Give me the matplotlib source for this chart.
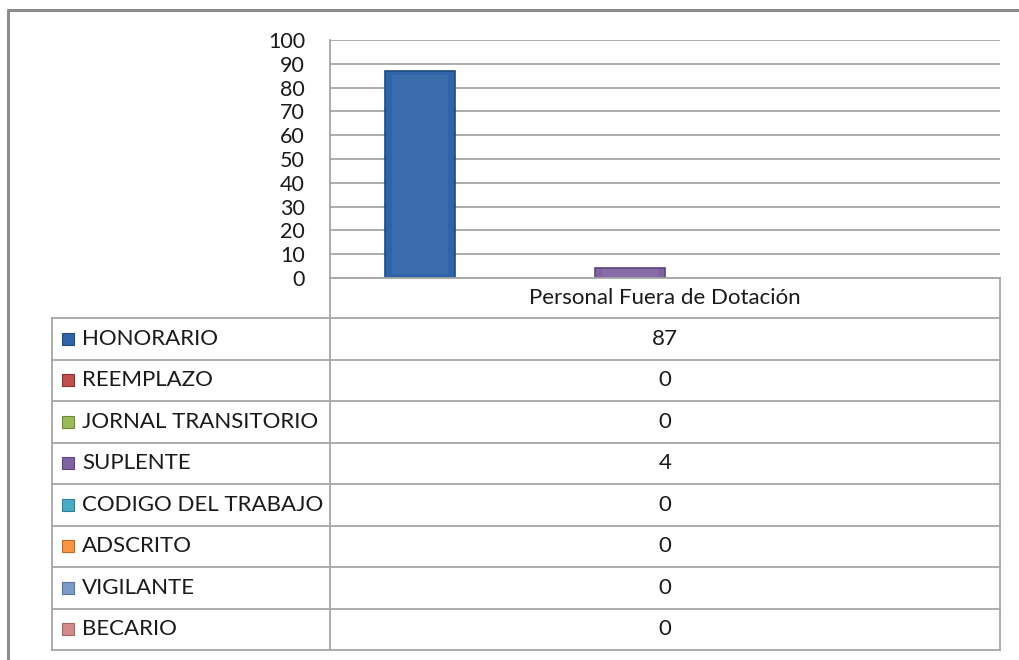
import matplotlib
matplotlib.use("Agg")
import matplotlib.pyplot as plt
from matplotlib.patches import Rectangle
from matplotlib.lines import Line2D

# ---- data ----
category = "Personal Fuera de Dotación"
series = ["HONORARIO", "REEMPLAZO", "JORNAL TRANSITORIO", "SUPLENTE",
          "CODIGO DEL TRABAJO", "ADSCRITO", "VIGILANTE", "BECARIO"]
values = [87, 0, 0, 4, 0, 0, 0, 0]
colors = ["#2F64A8", "#C0504D", "#9BBB59", "#8064A2",
          "#4BACC6", "#F79646", "#7E9BC8", "#D08C8B"]
edge_colors = ["#1F4A80", "#8E2F2D", "#6F8A37", "#5C4480",
               "#2E8098", "#C06A20", "#5A76A2", "#A86362"]
yticks = list(range(0, 101, 10))

W, H = 1019, 660
plt.rcParams['font.family'] = ['Lato', 'DejaVu Sans']
fig = plt.figure(figsize=(W / 100, H / 100), dpi=100)

def fx(x):
    return x / W

def fy(y):
    return 1 - y / H

grid_c = "#A6A6A6"
text_c = "#1A1A1A"

# plot area
left, right, top, bottom = 330, 1000, 40, 278
ax = fig.add_axes([fx(left), fy(bottom), (right - left) / W, (bottom - top) / H])
ax.set_xlim(-0.5, 0.5)
ax.set_ylim(0, 100)
ax.set_yticks(yticks)
ax.set_yticklabels([str(t) for t in yticks], fontsize=15.5, color=text_c)
ax.tick_params(axis='y', length=0, pad=18)
ax.set_xticks([])
for s in ["top", "right", "bottom"]:
    ax.spines[s].set_visible(False)
ax.spines["left"].set_color(grid_c)
ax.spines["left"].set_linewidth(1.3)
ax.yaxis.grid(True, color=grid_c, linewidth=1.3)
ax.set_axisbelow(True)

n = len(series)
bw = 70 / (right - left)
for i, (v, c, ec) in enumerate(zip(values, colors, edge_colors)):
    xc = (i - (n - 1) / 2) * bw
    if v > 0:
        ax.bar(xc, v, width=bw, color=c, edgecolor=ec, linewidth=1.2, zorder=3)
        # simple bevel highlight
        ax.bar(xc, v * 0.96, bottom=v * 0.02, width=bw * 0.8, color="white",
               edgecolor='none', alpha=0.06, zorder=4)

# outer frame
fig.add_artist(Line2D([fx(8), fx(8), fx(W)], [fy(H), fy(10), fy(10)],
                      color="#8C8C8C", linewidth=2.2))

# data table
t_left = 52
row_top = 318
row_h = 41.5
rows_bottom = row_top + row_h * n
lw = 1.3
fig.add_artist(Line2D([fx(left), fx(right)], [fy(bottom), fy(bottom)], color=grid_c, linewidth=lw))
fig.add_artist(Line2D([fx(left), fx(left)], [fy(bottom), fy(rows_bottom)], color=grid_c, linewidth=lw))
fig.add_artist(Line2D([fx(right), fx(right)], [fy(bottom), fy(rows_bottom)], color=grid_c, linewidth=lw))
fig.add_artist(Line2D([fx(t_left), fx(t_left)], [fy(row_top), fy(rows_bottom)], color=grid_c, linewidth=lw))
for k in range(n + 1):
    y = row_top + row_h * k
    fig.add_artist(Line2D([fx(t_left), fx(right)], [fy(y), fy(y)], color=grid_c, linewidth=lw))

cx = (left + right) / 2
fs = 16
fig.text(fx(cx), fy((bottom + row_top) / 2), category, ha='center', va='center',
         fontsize=fs, color=text_c)

for k, (name, v, c, ec) in enumerate(zip(series, values, colors, edge_colors)):
    yc = row_top + row_h * (k + 0.5)
    fig.add_artist(Rectangle((fx(62), fy(yc + 6)), 12 / W, 12 / H,
                             facecolor=c, edgecolor=ec, linewidth=0.8))
    fig.text(fx(82), fy(yc), name, ha='left', va='center', fontsize=fs, color=text_c)
    fig.text(fx(cx), fy(yc), str(v), ha='center', va='center', fontsize=fs, color=text_c)

fig.savefig("out.png", dpi=100)
